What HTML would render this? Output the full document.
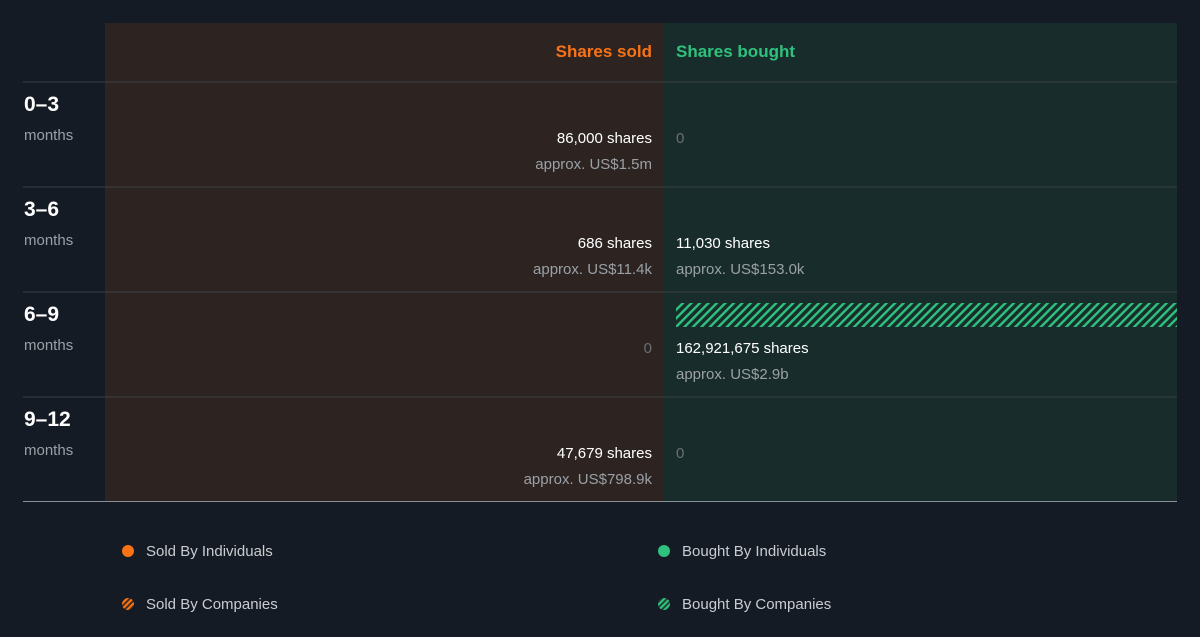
<!DOCTYPE html>
<html><head><meta charset="utf-8"><style>
body{margin:0;width:1200px;height:637px;background:#151b24;font-family:"Liberation Sans",sans-serif;overflow:hidden;position:relative}
</style></head><body>
<svg id="chart" width="1200" height="637" style="position:absolute;left:0;top:0">
<defs>
<pattern id="hatchG" patternUnits="userSpaceOnUse" width="6" height="6" patternTransform="rotate(45)"><rect width="6" height="6" fill="#182d2b"/><rect width="2.4" height="6" fill="#2ec27e"/></pattern>
<pattern id="hatchO" patternUnits="userSpaceOnUse" width="4" height="4" patternTransform="rotate(45)"><rect width="4" height="4" fill="#3a2a20"/><rect width="2.2" height="4" fill="#f97316"/></pattern>
<pattern id="hatchG2" patternUnits="userSpaceOnUse" width="4" height="4" patternTransform="rotate(45)"><rect width="4" height="4" fill="#1d3a32"/><rect width="2.2" height="4" fill="#2ec27e"/></pattern>
</defs>
<rect x="105" y="23" width="558" height="478" fill="#2d2422"/>
<rect x="663" y="23" width="514" height="478" fill="#182d2b"/>
<g id="grid"></g><g id="bars"></g>
<text x="652" y="57" text-anchor="end" fill="#f97316" font-size="17" font-weight="bold" font-family="Liberation Sans">Shares sold</text>
<text x="676" y="57" fill="#2ec27e" font-size="17" font-weight="bold" font-family="Liberation Sans">Shares bought</text>
<g id="labels"></g>
<circle cx="128" cy="551" r="6" fill="#f97316"/>
<text x="146" y="556" fill="#c9ccd1" font-size="15" font-family="Liberation Sans">Sold By Individuals</text>
<circle cx="128" cy="604" r="6" fill="url(#hatchO)"/>
<text x="146" y="609" fill="#c9ccd1" font-size="15" font-family="Liberation Sans">Sold By Companies</text>
<circle cx="664" cy="551" r="6" fill="#2ec27e"/>
<text x="682" y="556" fill="#c9ccd1" font-size="15" font-family="Liberation Sans">Bought By Individuals</text>
<circle cx="664" cy="604" r="6" fill="url(#hatchG2)"/>
<text x="682" y="609" fill="#c9ccd1" font-size="15" font-family="Liberation Sans">Bought By Companies</text>
</svg>
<script>
const periods=["0\u20133","3\u20136","6\u20139","9\u201312"];
const soldShares=[86000,686,0,47679];
const soldValue=["approx. US$1.5m","approx. US$11.4k","","approx. US$798.9k"];
const boughtShares=[0,11030,162921675,0];
const boughtValue=["","approx. US$153.0k","approx. US$2.9b",""];
const boughtCompanies=[0,0,162921675,0];
const soldCompanies=[0,0,0,0];
const NS="http://www.w3.org/2000/svg";
const rowTop=82,rowH=105;
const maxV=Math.max(...boughtCompanies,...soldCompanies,...soldShares,...boughtShares);
const bw=v=>v/maxV*501;
function mk(tag,attrs,parent,txt){const e=document.createElementNS(NS,tag);for(const k in attrs)e.setAttribute(k,attrs[k]);if(txt!==undefined)e.textContent=txt;document.getElementById(parent).appendChild(e);return e;}
const fmt=n=>n.toLocaleString('en-US');
for(let i=0;i<=periods.length;i++){
 const y=rowTop+i*rowH+(i==periods.length?-0.5:0);
 const l=mk('line',{x1:23,x2:1177,y1:y,y2:y,stroke:i==periods.length?'#8a9098':'#3a3f44','stroke-width':1},'grid');
 
 
}
periods.forEach((p,i)=>{
 const y0=rowTop+i*rowH;
 let t=mk('text',{x:24,y:y0+29,fill:'#fff','font-size':21,'font-weight':'bold','font-family':'Liberation Sans'},'labels',p);
 
 
 t=mk('text',{x:24,y:y0+58,fill:'#9aa0a6','font-size':15,'font-family':'Liberation Sans'},'labels','months');
 
 
 const hasBar=boughtCompanies[i]>0;
 if(hasBar){
  const r=mk('rect',{x:676,y:y0+11,width:bw(boughtCompanies[i]),height:24,fill:'url(#hatchG)'},'bars');
  
  
 }
 if(soldShares[i]>0){
  t=mk('text',{x:652,y:y0+61,'text-anchor':'end',fill:'#fff','font-size':15,'font-family':'Liberation Sans'},'labels',fmt(soldShares[i])+' shares');
  
  
  t=mk('text',{x:652,y:y0+87,'text-anchor':'end',fill:'#9aa0a6','font-size':15,'font-family':'Liberation Sans'},'labels',soldValue[i]);
  
  
 } else {
  t=mk('text',{x:652,y:y0+61,'text-anchor':'end',fill:'#6b6f73','font-size':15,'font-family':'Liberation Sans'},'labels','0');
  
  
 }
 if(boughtShares[i]>0){
  t=mk('text',{x:676,y:y0+61,fill:'#fff','font-size':15,'font-family':'Liberation Sans'},'labels',fmt(boughtShares[i])+' shares');
  
  
  t=mk('text',{x:676,y:y0+87,fill:'#9aa0a6','font-size':15,'font-family':'Liberation Sans'},'labels',boughtValue[i]);
  
  
 } else {
  t=mk('text',{x:676,y:y0+61,fill:'#6b6f73','font-size':15,'font-family':'Liberation Sans'},'labels','0');
  
  
 }
});
</script>
</body></html>
